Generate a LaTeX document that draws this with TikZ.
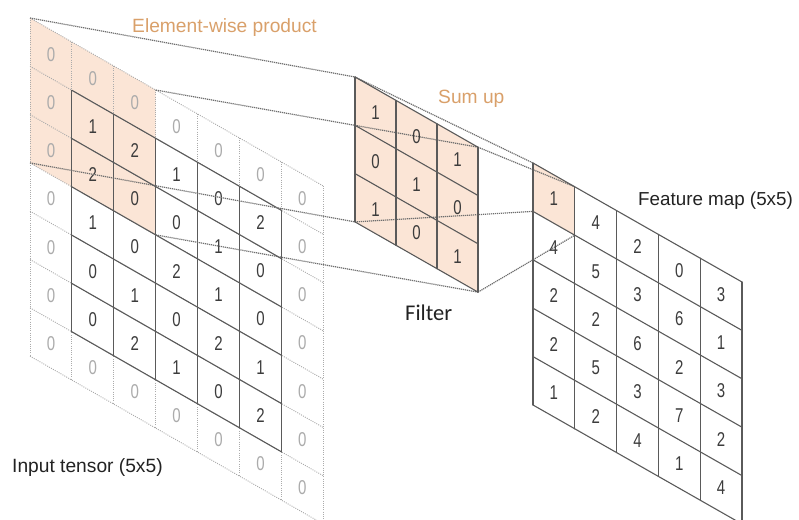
\documentclass[tikz,border=0pt]{standalone}
\usepackage{fontspec}
\setmainfont{Liberation Sans}
\newfontfamily\digitfont[FakeStretch=0.75]{Liberation Sans}
\newfontfamily\filterfont{Carlito}
\definecolor{peach}{HTML}{FBE5D6}
\definecolor{tanlbl}{HTML}{D9A06A}
\definecolor{padgray}{HTML}{ABABAB}
\definecolor{gridgray}{HTML}{5A5A5A}
\definecolor{projgray}{HTML}{6E6E6E}
\definecolor{numgray}{HTML}{3C3C3C}
\definecolor{lblgray}{HTML}{222222}
\begin{document}
\begin{tikzpicture}[x=1pt,y=-1pt,
  padline/.style={draw=padgray, line width=0.9pt, dash pattern=on 1pt off 1.2pt},
  solidline/.style={draw=gridgray, line width=1.1pt, line cap=round},
  projline/.style={draw=projgray, line width=1.2pt, dash pattern=on 1.2pt off 0.8pt},
  padnum/.style={font=\digitfont\fontsize{20}{20}\selectfont, text=padgray, inner sep=0pt},
  num/.style={font=\digitfont\fontsize{20}{20}\selectfont, text=numgray, inner sep=0pt},
  lbl/.style={font=\fontsize{19.2}{19.2}\selectfont, inner sep=0pt, anchor=base west, text=lblgray},
]
\useasboundingbox (0,0) rectangle (799,519);
\clip (0,0) rectangle (799,519);

% ---------------- Input tensor ----------------
\begin{scope}[shift={(30,18)}, x={(41.9pt,-24pt)}, y={(0pt,-48.3pt)}]
  \fill[peach] (0,0) -- (3,0) -- (3,3) -- (0,3) -- cycle;
  \foreach \c in {0,...,7} \draw[padline] (\c,0) -- (\c,7);
  \foreach \r in {0,...,7} \draw[padline] (0,\r) -- (7,\r);
  \foreach \c in {1,...,6} \draw[solidline] (\c,1) -- (\c,6);
  \foreach \r in {1,...,6} \draw[solidline] (1,\r) -- (6,\r);
  \coordinate (inTL) at (0,0);
  \coordinate (inTR) at (3,0);
  \coordinate (inBL) at (0,3);
  \coordinate (inBR) at (3,3);
  % padding zeros
  \foreach \r in {0,...,6} {
    \node[padnum] (inp-0-\r) at (0.5,{\r+0.5}) {0};
    \node[padnum] (inp-6-\r) at (6.5,{\r+0.5}) {0};
  }
  \foreach \c in {1,...,5} {
    \node[padnum] (inp-\c-0) at ({\c+0.5},0.5) {0};
    \node[padnum] (inp-\c-6) at ({\c+0.5},6.5) {0};
  }
  % inner values
  \foreach \r/\vals in {1/{1,2,1,0,2}, 2/{2,0,0,1,0}, 3/{1,0,2,1,0}, 4/{0,1,0,2,1}, 5/{0,2,1,0,2}} {
    \foreach \v [count=\c] in \vals {
      \node[num] (in-\c-\r) at ({\c+0.5},{\r+0.5}) {\v};
    }
  }
\end{scope}

% ---------------- Filter (fill) ----------------
\begin{scope}[shift={(355,77)}, x={(41pt,-23.4pt)}, y={(0pt,-48.3pt)}]
  \fill[peach] (0,0) -- (3,0) -- (3,3) -- (0,3) -- cycle;
  \coordinate (fTL) at (0,0);
  \coordinate (fTR) at (3,0);
  \coordinate (fBL) at (0,3);
  \coordinate (fBR) at (3,3);
\end{scope}

% ---------------- Feature map (fill) ----------------
\begin{scope}[shift={(533,163)}, x={(41.8pt,-23.8pt)}, y={(0pt,-48.4pt)}]
  \fill[peach] (0,0) -- (1,0) -- (1,1) -- (0,1) -- cycle;
  \coordinate (mTL) at (0,0);
  \coordinate (mTR) at (1,0);
  \coordinate (mBL) at (0,1);
  \coordinate (mBR) at (1,1);
\end{scope}

% ---------------- Projection lines ----------------
\draw[projline] (inTL) -- (fTL);
\draw[projline] (inTR) -- (fTR);
\draw[projline] (inBL) -- (fBL);
\draw[projline] (inBR) -- (fBR);
\draw[projline] (fTL) -- (mTL);
\draw[projline] (fTR) -- (mTR);
\draw[projline] (fBL) -- (mBL);
\draw[projline] (fBR) -- (mBR);

% ---------------- Filter (grid + values) ----------------
\begin{scope}[shift={(355,77)}, x={(41pt,-23.4pt)}, y={(0pt,-48.3pt)}]
  \foreach \c in {0,...,3} \draw[solidline] (\c,0) -- (\c,3);
  \foreach \r in {0,...,3} \draw[solidline] (0,\r) -- (3,\r);
  \foreach \r/\vals in {0/{1,0,1}, 1/{0,1,0}, 2/{1,0,1}} {
    \foreach \v [count=\k] in \vals {
      \node[num] (f-\k-\r) at ({\k-0.5},{\r+0.5}) {\v};
    }
  }
\end{scope}

% ---------------- Feature map (grid + values) ----------------
\begin{scope}[shift={(533,163)}, x={(41.8pt,-23.8pt)}, y={(0pt,-48.4pt)}]
  \foreach \c in {0,...,5} \draw[solidline] (\c,0) -- (\c,5);
  \foreach \r in {0,...,5} \draw[solidline] (0,\r) -- (5,\r);
  \foreach \r/\vals in {0/{1,4,2,0,3}, 1/{4,5,3,6,1}, 2/{2,2,6,2,3}, 3/{2,5,3,7,2}, 4/{1,2,4,1,4}} {
    \foreach \v [count=\k] in \vals {
      \node[num] (m-\k-\r) at ({\k-0.5},{\r+0.5}) {\v};
    }
  }
\end{scope}

% ---------------- Labels ----------------
\node[lbl, text=tanlbl] (elem) at (132,33) {Element-wise product};
\node[lbl, text=tanlbl] (sumup) at (438,103) {Sum up};
\node[font=\filterfont\fontsize{22.5}{22.5}\selectfont, inner sep=0pt, anchor=base west, text=lblgray] (filt) at (405,320) {Filter};
\node[lbl, font=\fontsize{18.8}{18.8}\selectfont] (fmap) at (638,205) {Feature map (5x5)};
\node[lbl] (intensor) at (12,472) {Input tensor (5x5)};
\end{tikzpicture}
\end{document}
